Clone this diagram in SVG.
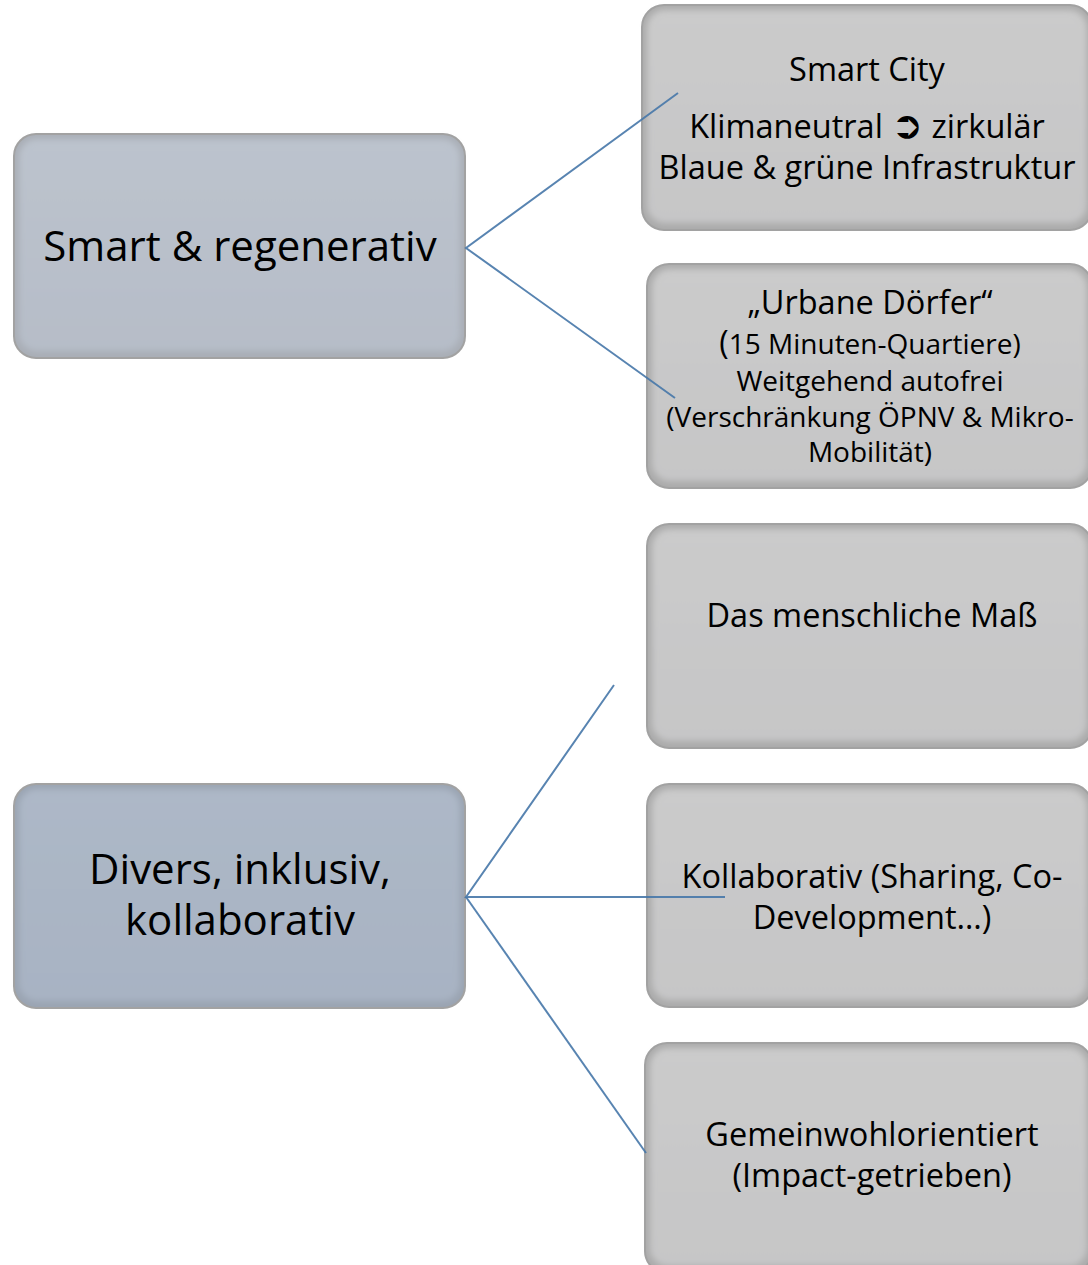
<svg xmlns="http://www.w3.org/2000/svg" width="1088" height="1265" viewBox="0 0 1088 1265">
<style>
.t{font-family:"Open Sans","Noto Sans","DejaVu Sans",sans-serif;fill:#000;text-anchor:middle}
.l{font-size:42px}
.r{font-size:32.5px}
.s{font-size:28px}
.edge{fill:none;stroke:#a2a2a2;stroke-width:2}
.conn{fill:none;stroke:#4677a8;stroke-width:2;stroke-opacity:0.9}
</style>
<defs>
<filter id="soft" x="-5%" y="-5%" width="110%" height="110%"><feGaussianBlur stdDeviation="3"/></filter>
<linearGradient id="gBlue1" x1="0" y1="0" x2="0" y2="1"><stop offset="0" stop-color="#bcc3cd"/><stop offset="1" stop-color="#b6bdc8"/></linearGradient>
<linearGradient id="gBlue2" x1="0" y1="0" x2="0" y2="1"><stop offset="0" stop-color="#adb8c7"/><stop offset="1" stop-color="#a8b3c3"/></linearGradient>
<linearGradient id="gGrey" x1="0" y1="0" x2="0" y2="1"><stop offset="0" stop-color="#cbcbcb"/><stop offset="1" stop-color="#c6c6c7"/></linearGradient>
</defs>

<g id="node-smart-regenerativ">
<rect x="14" y="134" width="451" height="224" rx="22" fill="#a9aeb6"/>
<rect x="19" y="139" width="441" height="212" rx="18" fill="url(#gBlue1)" filter="url(#soft)"/>
<rect x="14" y="134" width="451" height="224" rx="22" class="edge"/>
<text class="t l" x="240" y="261">Smart &amp; regenerativ</text>
</g>

<g id="node-divers">
<rect x="14" y="784" width="451" height="224" rx="22" fill="#9aa4b2"/>
<rect x="19" y="789" width="441" height="212" rx="18" fill="url(#gBlue2)" filter="url(#soft)"/>
<rect x="14" y="784" width="451" height="224" rx="22" class="edge"/>
<text class="t l" x="240" y="884">Divers, inklusiv,</text>
<text class="t l" x="240" y="935">kollaborativ</text>
</g>

<g id="node-smart-city">
<rect x="642" y="5" width="450" height="225" rx="22" fill="#ababab"/>
<rect x="647" y="10" width="440" height="213" rx="18" fill="url(#gGrey)" filter="url(#soft)"/>
<rect x="642" y="5" width="450" height="225" rx="22" class="edge"/>
<text class="t r" x="867" y="81">Smart City</text>
<text class="t r" x="867" y="138">Klimaneutral <tspan font-family="DejaVu Sans" font-size="38px">➲</tspan>  zirkulär</text>
<text class="t r" x="867" y="179">Blaue &amp; grüne Infrastruktur</text>
</g>

<g id="node-urbane-doerfer">
<rect x="647" y="264" width="445" height="224" rx="22" fill="#ababab"/>
<rect x="652" y="269" width="435" height="212" rx="18" fill="url(#gGrey)" filter="url(#soft)"/>
<rect x="647" y="264" width="445" height="224" rx="22" class="edge"/>
<text class="t r" x="870" y="314">„Urbane Dörfer“</text>
<text class="t s" x="870" y="354"><tspan font-size="32px">(</tspan>15 Minuten-Quartiere)</text>
<text class="t s" x="870" y="391">Weitgehend autofrei</text>
<text class="t s" x="870" y="427">(Verschränkung ÖPNV &amp; Mikro-</text>
<text class="t s" x="870" y="462">Mobilität)</text>
</g>

<g id="node-menschliche-mass">
<rect x="647" y="524" width="445" height="224" rx="22" fill="#ababab"/>
<rect x="652" y="529" width="435" height="212" rx="18" fill="url(#gGrey)" filter="url(#soft)"/>
<rect x="647" y="524" width="445" height="224" rx="22" class="edge"/>
<text class="t r" x="872" y="627">Das menschliche Maß</text>
</g>

<g id="node-kollaborativ">
<rect x="647" y="784" width="445" height="223" rx="22" fill="#ababab"/>
<rect x="652" y="789" width="435" height="211" rx="18" fill="url(#gGrey)" filter="url(#soft)"/>
<rect x="647" y="784" width="445" height="223" rx="22" class="edge"/>
<text class="t r" x="872" y="888">Kollaborativ (Sharing, Co-</text>
<text class="t r" x="872" y="929">Development…)</text>
</g>

<g id="node-gemeinwohl">
<rect x="645" y="1043" width="447" height="230" rx="22" fill="#ababab"/>
<rect x="650" y="1048" width="437" height="218" rx="18" fill="url(#gGrey)" filter="url(#soft)"/>
<rect x="645" y="1043" width="447" height="230" rx="22" class="edge"/>
<text class="t r" x="872" y="1146">Gemeinwohlorientiert</text>
<text class="t r" x="872" y="1187">(Impact-getrieben)</text>
</g>

<g id="connectors">
<path class="conn" d="M678,93 L466,248 L675,398"/>
<path class="conn" d="M614,685 L466,897 L725,897"/>
<path class="conn" d="M466,897 L646,1153"/>
</g>
</svg>
